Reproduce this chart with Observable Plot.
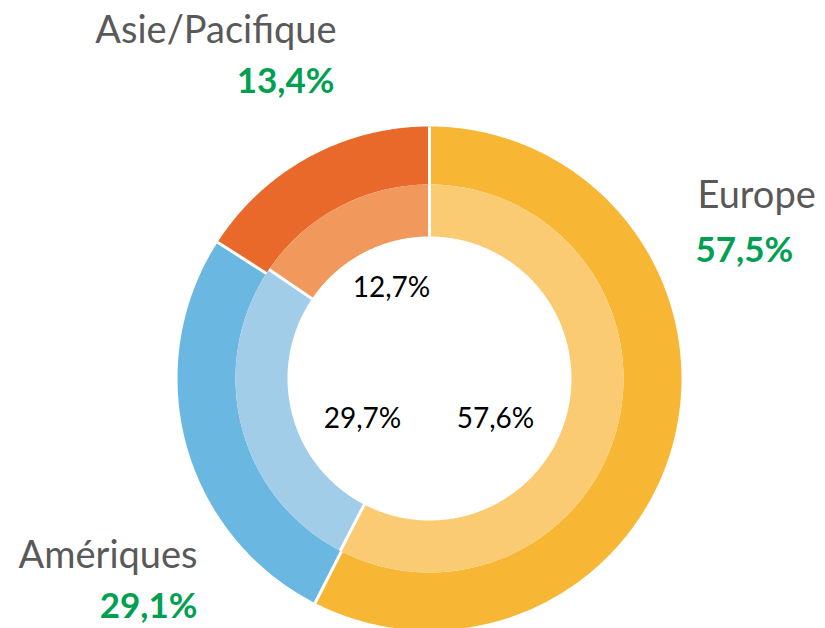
<!DOCTYPE html>
<html><head><meta charset="utf-8">
<script src="https://cdn.jsdelivr.net/npm/d3@7"></script>
<script src="https://cdn.jsdelivr.net/npm/@observablehq/plot@0.6"></script>
<style>html,body{margin:0;padding:0;background:#fff}</style>
</head><body><div id="chart"></div>
<script>
// ---- data ----
const regions = ["Europe", "Amériques", "Asie/Pacifique"];
const outerShares = [57.5, 26.6, 15.9];   // slice sizes as drawn (outer ring)
const innerShares = [57.6, 26.9, 15.5];   // slice sizes as drawn (inner ring)
const outerLabels = ["57,5%", "29,1%", "13,4%"];
const innerLabels = ["57,6%", "29,7%", "12,7%"];
const outerColors = ["#F7B633", "#6AB8E1", "#E8692A"];
const innerColors = ["#FACB73", "#A2CDE8", "#F1985D"];

// ---- layout ----
const W = 825, H = 628, CX = 429, CY = 378, R = 252;
const rOuter = 1, rMid = 194 / R, rHole = 142 / R;
const px = v => (v - CX) / R, py = v => (CY - v) / R;

function ring(shares, r0, r1, ringName) {
  const arcs = d3.pie().sort(null).value(d => d)(shares);
  const pts = [], seps = [];
  arcs.forEach((a, i) => {
    const key = ringName + "-" + regions[i];
    const n = Math.max(2, Math.ceil((a.endAngle - a.startAngle) / 0.01));
    for (let k = 0; k <= n; k++) {
      const t = a.startAngle + (a.endAngle - a.startAngle) * k / n;
      pts.push({key, x: r1 * Math.sin(t), y: r1 * Math.cos(t)});
    }
    for (let k = n; k >= 0; k--) {
      const t = a.startAngle + (a.endAngle - a.startAngle) * k / n;
      pts.push({key, x: r0 * Math.sin(t), y: r0 * Math.cos(t)});
    }
    const s = a.startAngle;
    seps.push({x1: r0 * Math.sin(s), y1: r0 * Math.cos(s), x2: r1 * Math.sin(s), y2: r1 * Math.cos(s)});
  });
  return {pts, seps};
}
const outer = ring(outerShares, rMid, rOuter, "outer");
const inner = ring(innerShares, rHole, rMid, "inner");

const colorDomain = regions.map(r => "outer-" + r).concat(regions.map(r => "inner-" + r));
const colorRange = outerColors.concat(innerColors);

// label layout (pixel anchors)
const nameLayout = [
  {x: 697, y: 195, anchor: "start"},
  {x: 197, y: 555, anchor: "end"},
  {x: 336, y: 30, anchor: "end"}
];
const pctLayout = [
  {x: 695, y: 250, anchor: "start"},
  {x: 197, y: 606, anchor: "end"},
  {x: 334, y: 81, anchor: "end"}
];
const innerLayout = [
  {x: 495, y: 419}, {x: 362, y: 419}, {x: 391, y: 288}
];

const font = "Lato, 'Open Sans', sans-serif";
const textMarks = [];
regions.forEach((name, i) => {
  textMarks.push(Plot.text([{t: name, x: px(nameLayout[i].x), y: py(nameLayout[i].y)}],
    {x: "x", y: "y", text: "t", textAnchor: nameLayout[i].anchor, lineAnchor: "middle",
     fontSize: 38, fill: "#595959", fontFamily: font}));
  textMarks.push(Plot.text([{t: outerLabels[i], x: px(pctLayout[i].x), y: py(pctLayout[i].y)}],
    {x: "x", y: "y", text: "t", textAnchor: pctLayout[i].anchor, lineAnchor: "middle",
     fontSize: 35, fontWeight: "bold", fill: "#00A050", fontFamily: font}));
  textMarks.push(Plot.text([{t: innerLabels[i], x: px(innerLayout[i].x), y: py(innerLayout[i].y)}],
    {x: "x", y: "y", text: "t", textAnchor: "middle", lineAnchor: "middle",
     fontSize: 28, fill: "#000000", fontFamily: font}));
});

const chart = Plot.plot({
  width: W, height: H,
  margin: 0,
  x: {domain: [px(0), px(W)], axis: null},
  y: {domain: [py(H), py(0)], axis: null},
  color: {domain: colorDomain, range: colorRange},
  style: {fontFamily: font, background: "#fff"},
  marks: [
    Plot.line(outer.pts, {x: "x", y: "y", z: "key", fill: "key", stroke: "none", curve: "linear-closed"}),
    Plot.line(inner.pts, {x: "x", y: "y", z: "key", fill: "key", stroke: "none", curve: "linear-closed"}),
    Plot.link(outer.seps, {x1: "x1", y1: "y1", x2: "x2", y2: "y2", stroke: "white", strokeWidth: 3}),
    Plot.link(inner.seps, {x1: "x1", y1: "y1", x2: "x2", y2: "y2", stroke: "white", strokeWidth: 3}),
    ...textMarks
  ]
});
document.getElementById("chart").appendChild(chart);
</script>
</body></html>
